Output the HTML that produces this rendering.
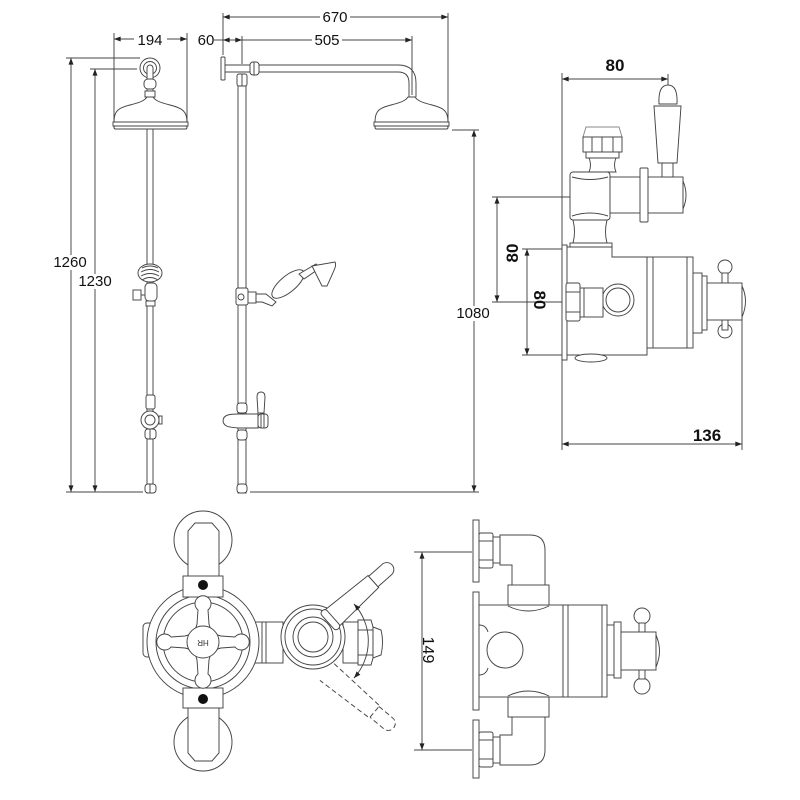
<!DOCTYPE html>
<html><head><meta charset="utf-8"><style>
html,body{margin:0;padding:0;background:#fff;}
svg{display:block;}
.l{fill:none;stroke:#444;stroke-width:0.95;}
.w{fill:#fff;stroke:#444;stroke-width:0.95;}
.t{font-family:"Liberation Sans",sans-serif;font-size:15px;fill:#111;text-anchor:middle;}
.b{font-family:"Liberation Sans",sans-serif;font-size:17px;font-weight:bold;fill:#111;text-anchor:middle;}
</style></head><body>
<svg width="800" height="800" viewBox="0 0 800 800" xmlns="http://www.w3.org/2000/svg">
<defs>
<marker id="a" viewBox="0 0 8 6" refX="8" refY="3" markerWidth="7" markerHeight="5" orient="auto-start-reverse" markerUnits="userSpaceOnUse"><path d="M0,0 L8,3 L0,6 z" fill="#222"/></marker>
</defs>

<!-- ===== TOP LEFT DIMENSIONS ===== -->
<g class="l">
<line x1="114" y1="39" x2="187" y2="39" marker-start="url(#a)" marker-end="url(#a)"/>
<line x1="114" y1="33" x2="114" y2="122"/>
<line x1="187" y1="33" x2="187" y2="122"/>
<line x1="223" y1="17" x2="448" y2="17" marker-start="url(#a)" marker-end="url(#a)"/>
<line x1="214" y1="40" x2="223" y2="40"/>
<line x1="223" y1="40" x2="242" y2="40" marker-start="url(#a)" marker-end="url(#a)"/>
<line x1="242" y1="40" x2="412" y2="40" marker-end="url(#a)"/>
<line x1="223" y1="13" x2="223" y2="55"/>
<line x1="242" y1="36" x2="242" y2="64"/>
<line x1="412" y1="36" x2="412" y2="95"/>
<line x1="448" y1="13" x2="448" y2="128"/>
<!-- 1260 / 1230 -->
<line x1="71" y1="58" x2="71" y2="492" marker-start="url(#a)" marker-end="url(#a)"/>
<line x1="66" y1="58" x2="140" y2="58"/>
<line x1="95" y1="69" x2="95" y2="492" marker-start="url(#a)" marker-end="url(#a)"/>
<line x1="90" y1="69" x2="137" y2="69"/>
<line x1="66" y1="492" x2="143" y2="492"/>
<!-- 1080 -->
<line x1="474" y1="130" x2="474" y2="492" marker-start="url(#a)" marker-end="url(#a)"/>
<line x1="452" y1="130" x2="479" y2="130"/>
<line x1="250" y1="492" x2="479" y2="492"/>
</g>
<rect x="134" y="32" width="33" height="16" fill="#fff"/>
<rect x="320" y="9" width="30" height="16" fill="#fff"/>
<rect x="312" y="32" width="30" height="16" fill="#fff"/>
<rect x="54" y="255" width="32" height="15" fill="#fff"/>
<rect x="79" y="274" width="32" height="15" fill="#fff"/>
<rect x="457" y="306" width="33" height="15" fill="#fff"/>
<text class="t" x="150" y="45">194</text>
<text class="t" x="335" y="22">670</text>
<text class="t" x="206" y="45">60</text>
<text class="t" x="327" y="45">505</text>
<text class="t" x="70" y="267">1260</text>
<text class="t" x="95" y="286">1230</text>
<text class="t" x="473" y="318">1080</text>

<!-- ===== LEFT FRONT VIEW SHOWER ===== -->
<g>
<rect class="w" x="147" y="128" width="6" height="365"/>
<circle class="w" cx="150" cy="68" r="10"/>
<circle class="l" cx="150" cy="68" r="6.5"/>
<path class="w" d="M147,92 L147,68 A3,3 0 0 1 153,68 L153,92 Z"/>
<rect class="w" x="144" y="79" width="12" height="10" rx="4"/>
<rect class="w" x="145" y="91" width="10" height="6"/>
<path class="w" d="M114,122 C114,111 118,108 130,105 C142,102 145,100 147,97 L153,97 C155,100 158,102 170,105 C182,108 187,111 187,122 Z"/>
<rect class="w" x="113" y="122" width="75" height="4"/>
<rect class="w" x="114" y="126" width="73" height="3" rx="1.5"/>
<!-- holder -->
<ellipse class="w" cx="150" cy="273" rx="12" ry="9"/>
<path class="l" d="M142,268 Q150,264 158,268 M141,272 Q150,267 159,272 M141,276 Q150,271 159,276 M142,280 Q150,275 158,280"/>
<rect class="w" x="145" y="283" width="12" height="18" rx="4"/>
<rect class="w" x="133" y="290" width="8" height="10"/>
<line class="l" x1="141" y1="295" x2="145" y2="295"/>
<rect class="w" x="146" y="301" width="9" height="5"/>
<!-- lower -->
<rect class="w" x="146" y="395" width="9" height="14" rx="2"/>
<circle class="w" cx="150" cy="420" r="9"/>
<circle class="l" cx="150" cy="420" r="5"/>
<rect class="w" x="159" y="416" width="3" height="8"/>
<rect class="w" x="145" y="429" width="11" height="10" rx="3"/>
<rect class="w" x="145" y="484" width="11" height="9" rx="3"/>
<line class="l" x1="150" y1="484" x2="150" y2="493"/>
<line class="l" x1="150" y1="429" x2="150" y2="439"/>
</g>

<!-- ===== SIDE VIEW SHOWER ===== -->
<g>
<rect class="w" x="238" y="84" width="8" height="409"/>
<rect class="w" x="221" y="57" width="4" height="23" rx="1"/>
<path class="l" d="M225,65 L398,65 Q416,65 416,83 L416,97 M225,72 L258,72 M258,72 L398,72 Q409,72 409,83 L409,97"/>
<rect class="w" x="250" y="62" width="9" height="13" rx="3"/>
<line class="l" x1="254" y1="62" x2="254" y2="75"/>
<rect class="w" x="237" y="74" width="10" height="12" rx="2"/>
<line class="l" x1="242" y1="74" x2="242" y2="86"/>
<path class="w" d="M375,122 C375,111 379,108 391,105 C403,102 406,100 408,97 L415,97 C417,100 420,102 432,105 C444,108 448,111 448,122 Z"/>
<rect class="w" x="374" y="122" width="75" height="4"/>
<rect class="w" x="375" y="126" width="73" height="3" rx="1.5"/>
<!-- hand shower -->
<rect class="w" x="236" y="288" width="12" height="17" rx="2"/>
<circle class="l" cx="241" cy="297" r="3"/>
<rect class="w" x="248" y="292" width="8" height="11"/>
<path class="w" d="M256,294 L266,294 L276,302 L272,306 L262,302 L256,302 Z"/>
<ellipse class="w" cx="288" cy="284" rx="20" ry="8" transform="rotate(-40 288 284)"/>
<path class="w" d="M299,274 L316,264 L320,268 L304,279 Z"/>
<path class="w" d="M312,266 L335,262 C337,266 334,270 327,286 L322,286 Z"/>
<!-- valve -->
<rect class="w" x="237" y="403" width="10" height="10" rx="3"/>
<path class="w" d="M238,414 L258,414 L258,428 L238,428 C232,427 224,428 223,421 C223,414 232,414 238,414 Z"/>
<rect class="w" x="258" y="414" width="10" height="14" rx="3"/>
<line class="l" x1="261" y1="414" x2="261" y2="428"/>
<line class="l" x1="264" y1="414" x2="264" y2="428"/>
<path class="w" d="M258,413 L257,397 Q257,392 261,392 Q265,392 265,397 L264,413 Z"/>
<rect class="w" x="237" y="430" width="10" height="10" rx="3"/>
<rect class="w" x="237" y="484" width="10" height="9" rx="3"/>
</g>

<!-- ===== TOP RIGHT VALVE SIDE VIEW ===== -->
<g class="l">
<line x1="562" y1="79" x2="668" y2="79" marker-start="url(#a)" marker-end="url(#a)"/>
<line x1="562" y1="73" x2="562" y2="450"/>
<line x1="668" y1="74" x2="668" y2="95"/>
<line x1="562" y1="444" x2="742" y2="444" marker-start="url(#a)" marker-end="url(#a)"/>
<line x1="742" y1="290" x2="742" y2="450"/>
<line x1="497" y1="197" x2="497" y2="302" marker-start="url(#a)" marker-end="url(#a)"/>
<line x1="492" y1="197" x2="570" y2="197"/>
<line x1="492" y1="302" x2="565" y2="302"/>
<line x1="527" y1="249" x2="527" y2="355" marker-start="url(#a)" marker-end="url(#a)"/>
<line x1="522" y1="249" x2="566" y2="249"/>
<line x1="522" y1="355" x2="566" y2="355"/>
</g>
<text class="b" x="615" y="71">80</text>
<text class="b" x="707" y="441">136</text>
<text class="b" x="0" y="0" transform="translate(518,253) rotate(-90)">80</text>
<text class="b" x="0" y="0" transform="translate(534,300) rotate(90)">80</text>
<g>
<!-- upper body -->
<path class="w" d="M586,127 L619,127 L622,137 L583,137 Z" style="stroke:#888"/>
<rect class="w" x="583" y="137" width="39" height="15"/>
<line class="l" x1="592" y1="137" x2="592" y2="152"/><line class="l" x1="602" y1="137" x2="602" y2="152"/><line class="l" x1="613" y1="137" x2="613" y2="152"/>
<rect class="w" x="586" y="152" width="33" height="6"/>
<path class="w" d="M589,158 L616,158 Q613,165 616,172 L589,172 Q592,165 589,158 Z"/>
<rect class="w" x="570" y="172" width="40" height="48" rx="3"/>
<path class="l" d="M572,177 Q590,182 608,177 M572,216 Q590,210 608,216"/>
<path class="w" d="M573,220 Q576,232 573,243 L607,243 Q604,232 607,220 Z"/>
<rect class="w" x="570" y="243" width="42" height="5"/>
<rect class="w" x="610" y="177" width="32" height="36"/>
<rect class="w" x="640" y="168" width="8" height="54" rx="1"/>
<rect class="w" x="648" y="177" width="35" height="36"/>
<path class="w" d="M683,181 Q689,195 683,209 Z"/>
<!-- handle -->
<rect class="w" x="662" y="160" width="11" height="17"/>
<path class="w" d="M654,106 L681,106 L677,163 L658,163 Z"/>
<path class="w" d="M659,104 Q658,85 668,85 Q678,85 677,104 Z"/>
<!-- lower body -->
<rect class="w" x="562" y="245" width="5" height="115"/>
<path class="w" d="M567,247 L612,247 L612,257 L647,257 L647,355 L567,355 Z"/>
<ellipse class="w" cx="591" cy="358" rx="16" ry="4"/>
<rect class="w" x="647" y="257" width="46" height="91"/>
<line class="l" x1="653" y1="257" x2="653" y2="348"/>
<line class="l" x1="687" y1="257" x2="687" y2="348"/>
<rect class="w" x="693" y="273" width="9" height="60"/>
<rect class="w" x="702" y="276" width="5" height="54"/>
<circle class="w" cx="725" cy="267" r="7"/>
<circle class="w" cx="725" cy="331" r="7"/>
<rect class="w" x="722" y="273" width="6" height="10"/>
<rect class="w" x="722" y="320" width="6" height="10"/>
<rect class="w" x="707" y="283" width="35" height="37"/>
<path class="w" d="M742,286 Q749,301 742,317 Z"/>
<circle class="w" cx="618" cy="300" r="16"/>
<circle class="l" cx="618" cy="300" r="12"/>
<rect class="w" x="580" y="288" width="23" height="29"/>
<line class="l" x1="584" y1="288" x2="584" y2="317"/>
<rect class="w" x="566" y="283" width="14" height="38" rx="2"/>
<line class="l" x1="566" y1="292" x2="580" y2="292"/><line class="l" x1="566" y1="312" x2="580" y2="312"/>
</g>

<!-- ===== BOTTOM LEFT FRONT VIEW ===== -->
<g>
<circle class="w" cx="203" cy="540" r="29"/>
<circle class="w" cx="203" cy="742" r="29"/>
<path class="w" d="M188,580 L188,531 L195,523 L212,523 L219,531 L219,580 Z"/>
<path class="w" d="M188,704 L188,753 L195,761 L212,761 L219,753 L219,704 Z"/>
<rect class="w" x="143" y="623" width="10" height="34" rx="4"/>
<rect class="w" x="255" y="622" width="28" height="41"/>
<line class="l" x1="262" y1="622" x2="262" y2="663"/><line class="l" x1="266" y1="622" x2="266" y2="663"/>
<circle class="w" cx="203" cy="642" r="56"/>
<circle class="l" cx="203" cy="642" r="47"/>
<circle class="l" cx="203" cy="642" r="40"/>
<rect class="w" x="183" y="576" width="40" height="21"/>
<circle cx="203" cy="585" r="5" fill="#111"/>
<rect class="w" x="183" y="688" width="40" height="20"/>
<circle cx="203" cy="699" r="5" fill="#111"/>
<path class="w" transform="translate(203,642)" d="M-6,-18 L-5,-32 A8,8 0 1 1 5,-32 L6,-18 Q8,-8 18,-6 L32,-5 A8,8 0 1 1 32,5 L18,6 Q8,8 6,18 L5,32 A8,8 0 1 1 -5,32 L-6,18 Q-8,8 -18,6 L-32,5 A8,8 0 1 1 -32,-5 L-18,-6 Q-8,-8 -6,-18 Z"/>
<circle class="w" cx="203" cy="642" r="16"/>
<text x="0" y="0" transform="translate(203,640) rotate(180)" style="font-family:'Liberation Sans',sans-serif;font-size:8px;fill:#333;text-anchor:middle">HR</text>
<!-- right ring -->
<rect class="w" x="343" y="622" width="16" height="41"/>
<path class="w" d="M358,620 L371,620 L373,627 L373,658 L371,665 L358,665 Z"/>
<line class="l" x1="358" y1="630" x2="373" y2="630"/><line class="l" x1="358" y1="655" x2="373" y2="655"/>
<path class="w" d="M373,627 L381,630 Q384,642 381,655 L373,658 Z"/>
<circle class="w" cx="313" cy="637" r="32"/>
<circle class="l" cx="313" cy="637" r="28"/>
<circle class="w" cx="313" cy="637" r="20"/>
<circle class="l" cx="313" cy="637" r="15"/>
<g transform="translate(330,620) rotate(-41.6)">
<path class="w" d="M0,-11 L58,-8 L58,8 L0,11 Z"/>
<path class="w" d="M58,-7 L76,-7 A7,7 0 0 1 76,7 L58,7 Z"/>
<rect class="w" x="-3" y="-12" width="7" height="24" rx="3"/>
</g>
<g transform="translate(327,672) rotate(40)" style="stroke-dasharray:5,3">
<path class="l" d="M0,-11 L62,-8 L62,8 L0,11"/>
<path class="l" d="M62,-7 L80,-7 A7,7 0 0 1 80,7 L62,7"/>
</g>
<path class="l" d="M354,604 A55,55 0 0 1 354,678" marker-start="url(#a)" marker-end="url(#a)"/>
</g>

<!-- ===== BOTTOM RIGHT SIDE VIEW ===== -->
<g class="l">
<line x1="422" y1="552" x2="422" y2="750" marker-start="url(#a)" marker-end="url(#a)"/>
<line x1="414" y1="552" x2="472" y2="552"/>
<line x1="414" y1="750" x2="472" y2="750"/>
</g>
<text class="t" x="0" y="0" transform="translate(423,650) rotate(90)" style="font-size:16px">149</text>
<g>
<path class="w" d="M500,535 L530,535 Q545,535 545,550 L545,586 L512,586 L512,565 L500,565 Z"/>
<path class="w" d="M500,765 L530,765 Q545,765 545,750 L545,716 L512,716 L512,735 L500,735 Z"/>
<rect class="w" x="473" y="520" width="6" height="62"/>
<rect class="w" x="479" y="533" width="14" height="35" rx="2"/>
<line class="l" x1="479" y1="541" x2="493" y2="541"/><line class="l" x1="479" y1="560" x2="493" y2="560"/>
<rect class="w" x="493" y="537" width="7" height="26"/>
<rect class="w" x="473" y="720" width="6" height="58"/>
<rect class="w" x="479" y="732" width="14" height="35" rx="2"/>
<line class="l" x1="479" y1="740" x2="493" y2="740"/><line class="l" x1="479" y1="759" x2="493" y2="759"/>
<rect class="w" x="493" y="737" width="7" height="26"/>
<rect class="w" x="473" y="592" width="6" height="118"/>
<rect class="w" x="479" y="605" width="84" height="92"/>
<path class="l" d="M508,606 Q528,616 549,606 M508,696 Q528,686 549,696"/>
<path class="l" d="M479,625 Q486,625 488,632 M479,675 Q486,675 488,668"/>
<circle class="w" cx="505" cy="650" r="18"/>
<rect class="w" x="508" y="585" width="41" height="20"/>
<rect class="w" x="508" y="697" width="41" height="20"/>
<rect class="w" x="563" y="605" width="44" height="92"/>
<line class="l" x1="568" y1="605" x2="568" y2="697"/>
<line class="l" x1="602" y1="605" x2="602" y2="697"/>
<rect class="w" x="607" y="625" width="7" height="50"/>
<rect class="w" x="614" y="622" width="7" height="56"/>
<circle class="w" cx="642" cy="616" r="8"/>
<circle class="w" cx="642" cy="686" r="8"/>
<rect class="w" x="639" y="623" width="6" height="9"/>
<rect class="w" x="639" y="670" width="6" height="9"/>
<rect class="w" x="621" y="632" width="35" height="38"/>
<path class="w" d="M656,635 Q663,651 656,667 Z"/>
</g>
</svg>
</body></html>
